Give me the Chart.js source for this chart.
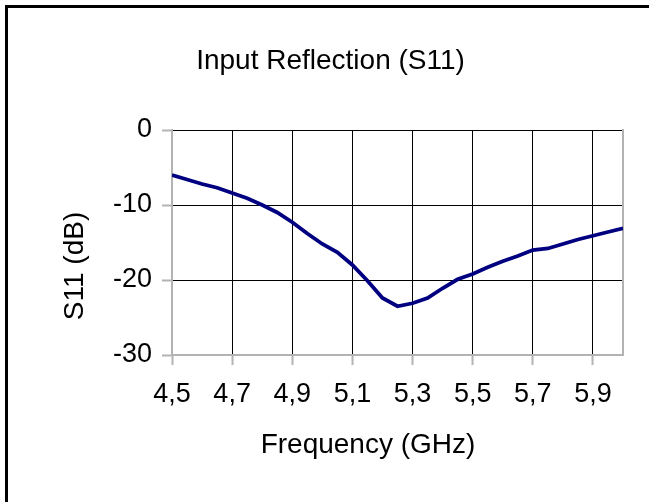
<!DOCTYPE html>
<html>
<head>
<meta charset="utf-8">
<script src="https://cdn.jsdelivr.net/npm/chart.js@4/dist/chart.umd.min.js"></script>
<style>
  html, body { margin: 0; padding: 0; background: #fff; overflow: hidden; }
  #wrap { position: absolute; left: 0; top: 0; width: 661px; height: 502px; }
  #frame { position: absolute; left: 5px; top: 5px; width: 700px; height: 600px;
           border-left: 3px solid #000; border-top: 3px solid #000; pointer-events: none; }
</style>
</head>
<body>
<div id="wrap"><canvas id="c"></canvas></div>
<div id="frame"></div>
<script>
// ---- data ----
const frequencies = [4.50, 4.55, 4.60, 4.65, 4.70, 4.75, 4.80, 4.85, 4.90, 4.95,
                     5.00, 5.05, 5.10, 5.15, 5.20, 5.25, 5.30, 5.35, 5.40, 5.45,
                     5.50, 5.55, 5.60, 5.65, 5.70, 5.75, 5.80, 5.85, 5.90, 5.95, 6.00];
const s11dB = [-6.0, -6.6, -7.2, -7.7, -8.4, -9.1, -10.0, -11.0, -12.3, -13.8,
               -15.2, -16.3, -18.0, -20.1, -22.4, -23.5, -23.1, -22.4, -21.1, -19.9,
               -19.2, -18.3, -17.5, -16.8, -16.0, -15.8, -15.2, -14.6, -14.1, -13.6, -13.1];
const xTickValues = [4.5, 4.7, 4.9, 5.1, 5.3, 5.5, 5.7, 5.9];
const xTickLabels = ['4,5', '4,7', '4,9', '5,1', '5,3', '5,5', '5,7', '5,9'];
const yTickValues = [0, -10, -20, -30];
const yTickLabels = ['0', '-10', '-20', '-30'];
const chartTitle = 'Input Reflection (S11)';
const xTitle = 'Frequency (GHz)';
const yTitle = 'S11 (dB)';

const FONT = '"Liberation Sans", Arial, sans-serif';
const AXIS_GRAY = '#b3b3b3';

const axisTitles = {
  id: 'axisTitles',
  afterDraw(chart) {
    const ctx = chart.ctx, a = chart.chartArea;
    ctx.save();
    ctx.fillStyle = '#000';
    ctx.font = '28px ' + FONT;
    ctx.textAlign = 'center';
    ctx.textBaseline = 'middle';
    ctx.fillText(xTitle, a.left + 196, a.bottom + 90);
    ctx.translate(a.left - 97, a.top + 136);
    ctx.rotate(-Math.PI / 2);
    ctx.fillText(yTitle, 0, 0);
    ctx.restore();
  }
};

new Chart(document.getElementById('c'), {
  type: 'line',
  data: {
    datasets: [{
      data: frequencies.map((f, i) => ({ x: f, y: s11dB[i] })),
      borderColor: '#000080',
      borderWidth: 3.8,
      pointRadius: 0,
      tension: 0,
      fill: false
    }]
  },
  options: {
    responsive: true,
    maintainAspectRatio: false,
    animation: false,
    layout: { padding: { left: 38, right: 38, top: 0, bottom: 0 } },
    plugins: {
      legend: { display: false },
      tooltip: { enabled: false },
      title: {
        display: true,
        text: chartTitle,
        color: '#000',
        font: { family: FONT, size: 28, weight: 'normal' },
        padding: { top: 44, bottom: 52.4 }
      }
    },
    scales: {
      x: {
        type: 'linear',
        min: 4.5,
        max: 6.0,
        afterBuildTicks: s => { s.ticks = xTickValues.map(v => ({ value: v })); },
        afterFit: s => { s.height = 147; },
        ticks: {
          autoSkip: false,
          maxRotation: 0,
          color: '#000',
          padding: 13,
          font: { family: FONT, size: 27 },
          callback: (v, i) => xTickLabels[i]
        },
        grid: { color: '#000', lineWidth: 1, tickColor: AXIS_GRAY, tickLength: 10, tickWidth: 2 },
        border: { color: AXIS_GRAY, width: 2 }
      },
      y: {
        type: 'linear',
        min: -30,
        max: 0,
        afterBuildTicks: s => { s.ticks = yTickValues.map(v => ({ value: v })); },
        afterFit: s => { s.width = 134; },
        ticks: {
          color: '#000',
          padding: 10,
          font: { family: FONT, size: 27 },
          callback: (v, i) => yTickLabels[i]
        },
        grid: { color: '#000', lineWidth: 1, tickColor: AXIS_GRAY, tickLength: 10, tickWidth: 2 },
        border: { color: AXIS_GRAY, width: 2 }
      },
      y2: {
        type: 'linear',
        position: 'right',
        min: -30,
        max: 0,
        afterFit: s => { s.width = 0; },
        ticks: { display: false },
        grid: { display: false },
        border: { color: AXIS_GRAY, width: 2 }
      }
    }
  },
  plugins: [axisTitles]
});
</script>
</body>
</html>
